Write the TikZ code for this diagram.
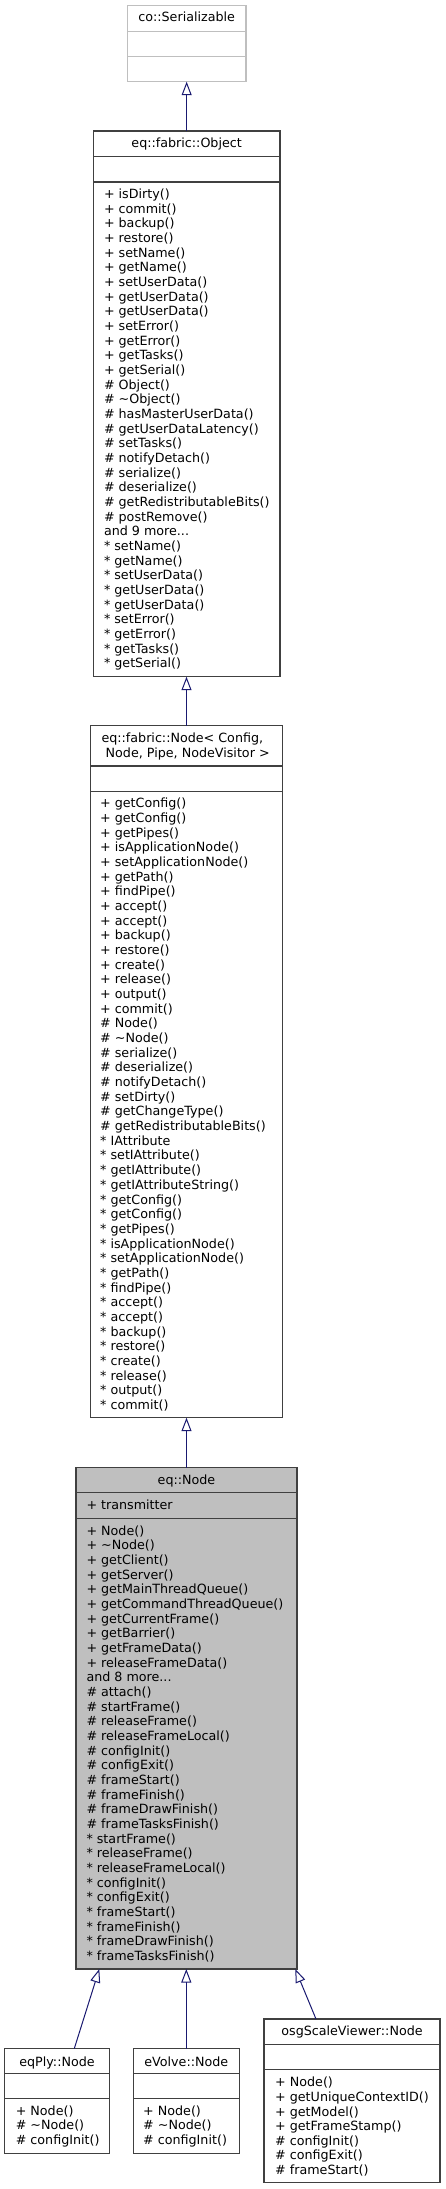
\documentclass[tikz,border=0pt]{standalone}
\usepackage{fontspec}
\setmainfont{DejaVu Sans}
\usetikzlibrary{arrows.meta,calc}
\definecolor{boxline}{HTML}{404040}
\definecolor{lightline}{HTML}{BFBFBF}
\definecolor{edgeblue}{HTML}{191970}
\definecolor{hlfill}{HTML}{BFBFBF}
\newcommand{\umlbox}[6]{\pgfmathsetmacro{\umlW}{#4-#2}\pgfmathsetmacro{\umlH}{#5-#3}\node[#6, minimum width=\umlW pt, minimum height=\umlH pt] (#1) at (#2,#3) {};}
\newcommand{\umlsep}[4]{\draw[#4] (#1,#3) -- (#2,#3);}
\newcommand{\tl}{\textasciitilde}
\newcommand{\fstrut}{\rule{0pt}{10pt}}
\begin{document}
\begin{tikzpicture}[x=1pt,y=-1pt,
  classbox/.style={draw=boxline, line width=1.1pt, fill=white, inner sep=0pt, outer sep=0pt, anchor=north west},
  lightbox/.style={classbox, draw=lightline},
  hlbox/.style={classbox, fill=hlfill},
  sepline/.style={draw=boxline, line width=1.1pt},
  lightsep/.style={draw=lightline, line width=1.1pt},
  mlist/.style={anchor=north west, align=left, inner sep=0pt, yshift=10pt, font=\fontsize{12.7}{14.67}\selectfont},
  slist/.style={mlist, font=\fontsize{12.7}{14.55}\selectfont},
  ctitle/.style={anchor=base, inner sep=0pt, font=\fontsize{12.7}{14.67}\selectfont},
  ltitle/.style={anchor=base west, inner sep=0pt, font=\fontsize{12.7}{14.67}\selectfont},
  inherit/.style={draw=edgeblue, line width=1pt, -{Triangle[open, length=13.5pt, width=10pt]}}
]
\useasboundingbox (0,0) rectangle (445,2189);

% co::Serializable
\umlbox{ser}{127.3}{5.7}{246}{81.7}{lightbox}
\umlsep{127.3}{246}{31.7}{lightsep}
\umlsep{127.3}{246}{56.7}{lightsep}
\node[ctitle] (sert) at (186.65,22) {co::Serializable};

% eq::fabric::Object
\umlbox{obj}{93.3}{131}{280}{676.7}{classbox}
\umlsep{93.3}{280}{156.7}{sepline}
\umlsep{93.3}{280}{182}{sepline}
\node[ctitle] (objt) at (186.65,147.7) {eq::fabric::Object};
\node[mlist] (objm) at (103.8,198.3) {\fstrut+ isDirty()\\+ commit()\\+ backup()\\+ restore()\\+ setName()\\+ getName()\\+ setUserData()\\+ getUserData()\\+ getUserData()\\+ setError()\\+ getError()\\+ getTasks()\\+ getSerial()\\\# Object()\\\# \tl Object()\\\# hasMasterUserData()\\\# getUserDataLatency()\\\# setTasks()\\\# notifyDetach()\\\# serialize()\\\# deserialize()\\\# getRedistributableBits()\\\# postRemove()\\and 9 more...\\* setName()\\* getName()\\* setUserData()\\* getUserData()\\* getUserData()\\* setError()\\* getError()\\* getTasks()\\* getSerial()};

% eq::fabric::Node< ... >
\umlbox{fnode}{90.7}{725.7}{282.3}{1417.7}{classbox}
\umlsep{90.7}{282.3}{766}{sepline}
\umlsep{90.7}{282.3}{791.7}{sepline}
\node[ltitle] (fnodet1) at (101.3,742.5) {eq::fabric::Node< Config,};
\node[ltitle] (fnodet2) at (105.5,757) {Node, Pipe, NodeVisitor >};
\node[mlist] (fnodem) at (100,807.7) {\fstrut+ getConfig()\\+ getConfig()\\+ getPipes()\\+ isApplicationNode()\\+ setApplicationNode()\\+ getPath()\\+ findPipe()\\+ accept()\\+ accept()\\+ backup()\\+ restore()\\+ create()\\+ release()\\+ output()\\+ commit()\\\# Node()\\\# \tl Node()\\\# serialize()\\\# deserialize()\\\# notifyDetach()\\\# setDirty()\\\# getChangeType()\\\# getRedistributableBits()\\* IAttribute\\* setIAttribute()\\* getIAttribute()\\* getIAttributeString()\\* getConfig()\\* getConfig()\\* getPipes()\\* isApplicationNode()\\* setApplicationNode()\\* getPath()\\* findPipe()\\* accept()\\* accept()\\* backup()\\* restore()\\* create()\\* release()\\* output()\\* commit()};

% eq::Node
\umlbox{eqn}{76}{1467.7}{297}{1969}{hlbox}
\umlsep{76}{297}{1492.7}{sepline}
\umlsep{76}{297}{1518.3}{sepline}
\node[ctitle] (eqnt) at (186.5,1484.3) {eq::Node};
\node[ltitle] (eqna) at (86.3,1509.3) {+ transmitter};
\node[mlist] (eqnm) at (86.3,1535) {\fstrut+ Node()\\+ \tl Node()\\+ getClient()\\+ getServer()\\+ getMainThreadQueue()\\+ getCommandThreadQueue()\\+ getCurrentFrame()\\+ getBarrier()\\+ getFrameData()\\+ releaseFrameData()\\and 8 more...\\\# attach()\\\# startFrame()\\\# releaseFrame()\\\# releaseFrameLocal()\\\# configInit()\\\# configExit()\\\# frameStart()\\\# frameFinish()\\\# frameDrawFinish()\\\# frameTasksFinish()\\* startFrame()\\* releaseFrame()\\* releaseFrameLocal()\\* configInit()\\* configExit()\\* frameStart()\\* frameFinish()\\* frameDrawFinish()\\* frameTasksFinish()};

% eqPly::Node
\umlbox{eqply}{4.7}{2048.5}{109.3}{2153.3}{classbox}
\umlsep{4.7}{109.3}{2073.8}{sepline}
\umlsep{4.7}{109.3}{2098.8}{sepline}
\node[ctitle] (eqplyt) at (57,2066) {eqPly::Node};
\node[slist] (eqplym) at (15.6,2115) {\fstrut+ Node()\\\# \tl Node()\\\# configInit()};

% eVolve::Node
\umlbox{evolve}{133.3}{2048.5}{239.3}{2153.3}{classbox}
\umlsep{133.3}{239.3}{2073.8}{sepline}
\umlsep{133.3}{239.3}{2098.8}{sepline}
\node[ctitle] (evolvet) at (186.3,2066) {eVolve::Node};
\node[slist] (evolvem) at (143,2115) {\fstrut+ Node()\\\# \tl Node()\\\# configInit()};

% osgScaleViewer::Node
\umlbox{osg}{264}{2019}{440}{2182.3}{classbox}
\umlsep{264}{440}{2044.3}{sepline}
\umlsep{264}{440}{2069.3}{sepline}
\node[ctitle] (osgt) at (352,2035.3) {osgScaleViewer::Node};
\node[slist] (osgm) at (275,2086.7) {\fstrut+ Node()\\+ getUniqueContextID()\\+ getModel()\\+ getFrameStamp()\\\# configInit()\\\# configExit()\\\# frameStart()};

% inheritance arrows
\draw[inherit] (obj.north) -- (ser.south);
\draw[inherit] (fnode.north) -- (fnode.north |- obj.south);
\draw[inherit] (eqn.north) -- (eqn.north |- fnode.south);
\draw[inherit] ($(eqply.north)+(17.3,0)$) -- ($(eqn.south)+(-87.2,0)$);
\draw[inherit] (evolve.north) -- (evolve.north |- eqn.south);
\draw[inherit] ($(osg.north)+(-36,0)$) -- ($(eqn.south)+(108.8,0)$);
\end{tikzpicture}
\end{document}
